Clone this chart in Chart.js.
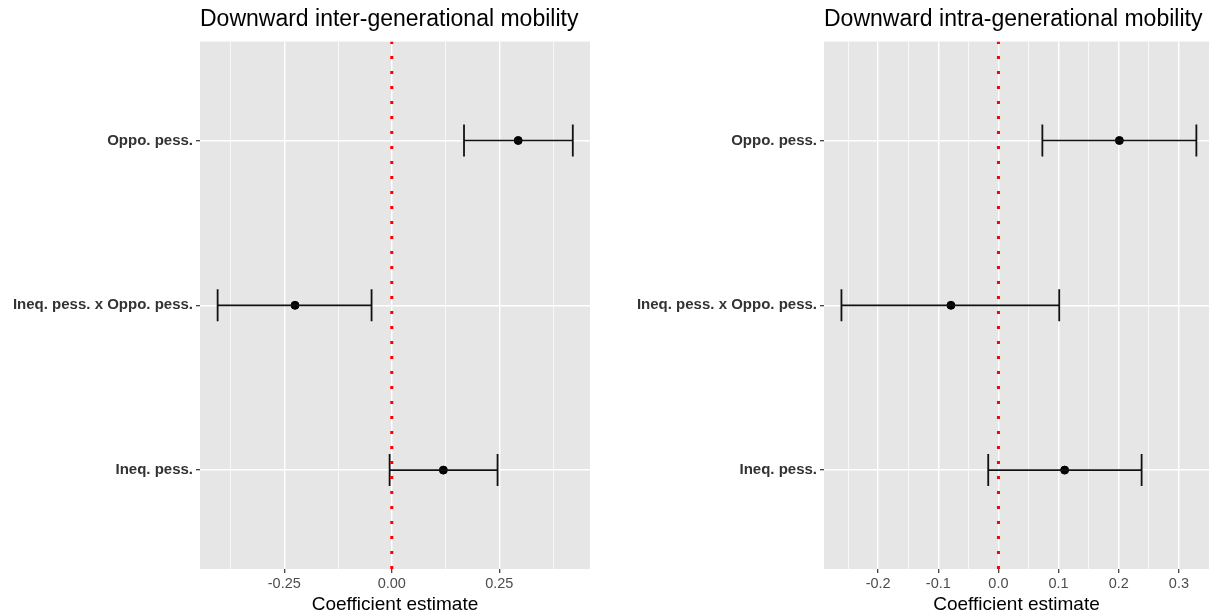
<!DOCTYPE html>
<html>
<head>
<meta charset="utf-8">
<script src="https://cdn.jsdelivr.net/npm/chart.js@4"></script>
<style>
  body { margin: 0; background: #fff; overflow: hidden; }
  #wrap { position: relative; width: 1209px; height: 616px; }
  canvas { position: absolute; top: 0; }
</style>
</head>
<body>
<div id="wrap">
  <canvas id="left" width="600" height="616" style="left:0"></canvas>
  <canvas id="right" width="599" height="616" style="left:610px"></canvas>
</div>
<script>
// categories, bottom to top
const categories = ["Ineq. pess.", "Ineq. pess. x Oppo. pess.", "Oppo. pess."];

// Downward inter-generational mobility
const interEst = [0.120, -0.225, 0.294];
const interLow = [-0.005, -0.405, 0.168];
const interHigh = [0.246, -0.047, 0.421];
const interTicks = [-0.25, 0, 0.25];
const interTickLabels = ["-0.25", "0.00", "0.25"];

// Downward intra-generational mobility
const intraEst = [0.110, -0.079, 0.201];
const intraLow = [-0.017, -0.261, 0.073];
const intraHigh = [0.238, 0.101, 0.329];
const intraTicks = [-0.2, -0.1, 0, 0.1, 0.2, 0.3];
const intraTickLabels = ["-0.2", "-0.1", "0.0", "0.1", "0.2", "0.3"];

const FONT = "'Liberation Sans', Arial, sans-serif";
const Y_MIN = 0.4, Y_MAX = 3.6;

const panelBg = {
  id: "panelBg",
  beforeDraw(chart) {
    const a = chart.chartArea, ctx = chart.ctx;
    ctx.save();
    ctx.fillStyle = "#E6E6E6";
    ctx.fillRect(a.left, a.top, a.right - a.left, a.bottom - a.top);
    ctx.restore();
  }
};

function minorTicks(major, min, max) {
  const step = major[1] - major[0];
  const out = [];
  for (let v = major[0] - step / 2; v < max - 1e-9; v += step) {
    if (v > min + 1e-9) out.push(+v.toFixed(4));
  }
  return out;
}

function makeChart(id, title, est, low, high, ticks, tickLabels, xMin, xMax, yWidth, padRight) {
  const minors = minorTicks(ticks, xMin, xMax);
  const allTicks = ticks.concat(minors).sort((a, b) => a - b);
  const isMajor = v => ticks.some(t => Math.abs(t - v) < 1e-6);

  const datasets = [{
    type: "line",
    data: [{ x: 0, y: Y_MIN }, { x: 0, y: Y_MAX }],
    borderColor: "#FF0000",
    borderWidth: 3,
    borderDash: [3, 12],
    pointRadius: 0
  }];

  categories.forEach((c, i) => {
    datasets.push({
      type: "line",
      data: [{ x: low[i], y: i + 1 }, { x: high[i], y: i + 1 }],
      borderColor: "#111",
      borderWidth: 1.7,
      pointStyle: "line",
      pointRotation: 90,
      pointRadius: 16,
      pointBorderWidth: 1.8,
      pointBorderColor: "#111"
    });
  });

  datasets.push({
    type: "scatter",
    data: est.map((v, i) => ({ x: v, y: i + 1 })),
    backgroundColor: "#000",
    borderColor: "#000",
    pointRadius: 4
  });

  new Chart(document.getElementById(id), {
    type: "scatter",
    data: { datasets },
    plugins: [panelBg],
    options: {
      responsive: false,
      animation: false,
      events: [],
      layout: { autoPadding: false, padding: { right: padRight, left: 0, top: 0, bottom: 0 } },
      plugins: {
        legend: { display: false },
        tooltip: { enabled: false },
        title: {
          display: true,
          text: title,
          align: "start",
          fullSize: false,
          color: "#000",
          font: { family: FONT, size: 23, weight: "normal" },
          padding: { top: 6, bottom: 8 }
        }
      },
      scales: {
        x: {
          type: "linear",
          min: xMin,
          max: xMax,
          afterBuildTicks: s => { s.ticks = allTicks.map(v => ({ value: v })); },
          afterFit: s => { s.height = 47; s.paddingLeft = 0; s.paddingRight = 0; },
          border: { display: false },
          grid: {
            color: "#FFFFFF",
            lineWidth: c => (c.tick && isMajor(c.tick.value)) ? 1.4 : 0.7,
            tickColor: c => (c.tick && isMajor(c.tick.value)) ? "#333" : "rgba(0,0,0,0)",
            tickLength: 4,
            tickWidth: 1.2
          },
          ticks: {
            autoSkip: false,
            maxRotation: 0,
            padding: 2,
            color: "#4D4D4D",
            font: { family: FONT, size: 14.5 },
            callback: v => {
              const k = ticks.findIndex(t => Math.abs(t - v) < 1e-6);
              return k >= 0 ? tickLabels[k] : "";
            }
          },
          title: {
            display: true,
            text: "Coefficient estimate",
            color: "#000",
            font: { family: FONT, size: 19 },
            padding: { top: 0, bottom: 0 }
          }
        },
        y: {
          type: "linear",
          min: Y_MIN,
          max: Y_MAX,
          afterBuildTicks: s => { s.ticks = categories.map((c, i) => ({ value: i + 1 })); },
          afterFit: s => { s.width = yWidth; s.paddingTop = 0; s.paddingBottom = 0; },
          border: { display: false },
          grid: {
            color: "#FFFFFF",
            lineWidth: 1.4,
            tickColor: "#333",
            tickLength: 4,
            tickWidth: 1.2
          },
          ticks: {
            padding: 3,
            color: "#333",
            font: { family: FONT, size: 15, weight: "bold" },
            callback: v => categories[Math.round(v) - 1] || ""
          }
        }
      }
    }
  });
}

makeChart("left", "Downward inter-generational mobility",
  interEst, interLow, interHigh, interTicks, interTickLabels, -0.446, 0.461, 200, 10);
makeChart("right", "Downward intra-generational mobility",
  intraEst, intraLow, intraHigh, intraTicks, intraTickLabels, -0.29, 0.35, 214, 0);
</script>
</body>
</html>
